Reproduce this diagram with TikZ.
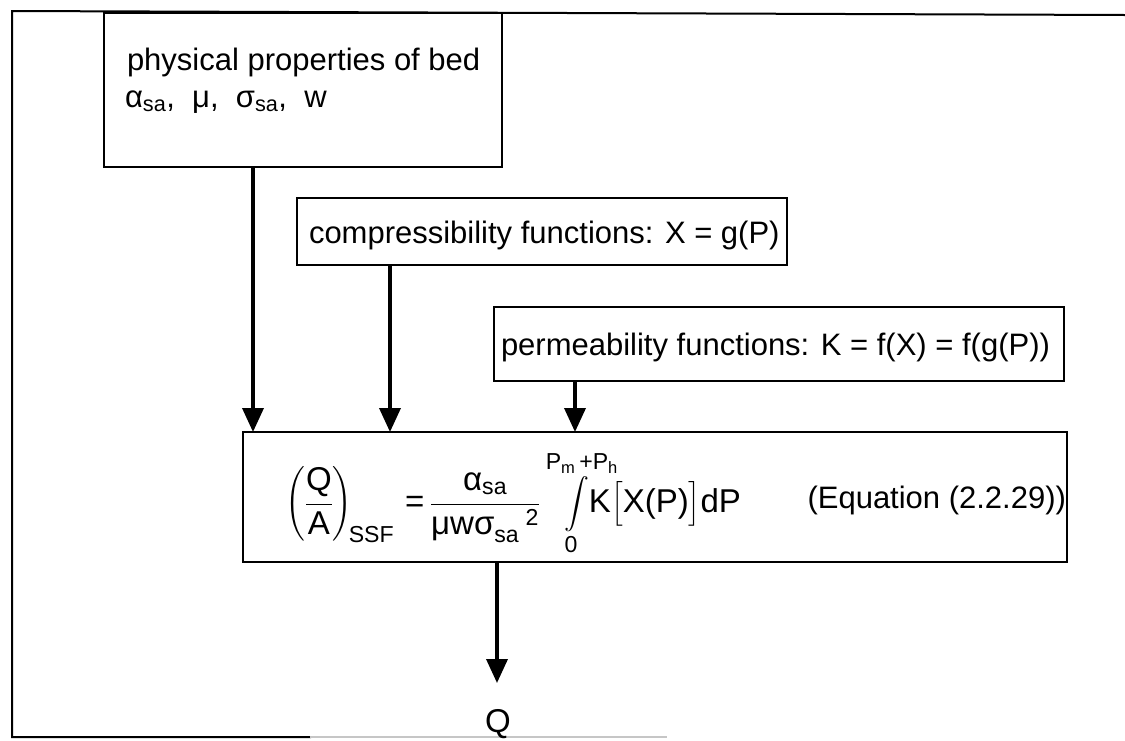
\RequirePackage{fix-cm}
\documentclass[tikz,border=0pt]{standalone}
\usepackage{amsmath}
\usepackage{mathtools}
\usepackage{fontspec}
\setmainfont{Liberation Sans}
\usetikzlibrary{arrows.meta}
\newcommand{\tx}[1]{\text{#1}}
\begin{document}
\begin{tikzpicture}[x=1pt,y=-1pt,
  box/.style={draw, line width=1.3pt, inner sep=0pt, outer sep=0pt, anchor=north west},
  lbl/.style={inner sep=0pt, outer sep=0pt, font=\fontsize{31}{37}\selectfont},
  arr/.style={line width=3.6pt, -{Triangle[width=21pt,length=24pt]}},
  frame/.style={line width=2pt, line cap=rect}]
\useasboundingbox (0,0) rectangle (1125,740);
% outer frame
\draw[frame] (1125,15) -- (12,11) -- (12,737) -- (310,737);
\draw[gray!45, line width=1.5pt] (310,737) -- (667,737);
% boxes
\node[box, minimum width=398pt, minimum height=154pt] (b1) at (104,13) {};
\node[lbl, anchor=base west] (b1a) at (127,70) {physical properties of bed};
\node[lbl, anchor=base west] (b1b) at (125,107) {α\textsubscript{sa}, \ μ, \ σ\textsubscript{sa}, \ w};
\node[box, minimum width=490pt, minimum height=67pt] (b2) at (297,198) {};
\node[lbl, anchor=base west] (b2t) at (309,243) {compressibility functions: X = g(P)};
\node[box, minimum width=570pt, minimum height=74pt] (b3) at (494,307) {};
\node[lbl, anchor=base west] (b3t) at (501,355) {permeability functions: K = f(X) = f(g(P))};
\node[box, minimum width=824pt, minimum height=130pt] (eq) at (243,432) {};
\node[inner sep=0pt, anchor=west, font=\fontsize{33}{40}\selectfont] (eqt) at (285,503)
 {$\displaystyle \left(\frac{\tx{Q}}{\tx{A}}\right)_{\!\tx{SSF}} \tx{\,=\,} \frac{\tx{α}_{\tx{sa}}}{\tx{μwσ}_{\tx{sa}}{}^{\;\tx{2}}}\;\;
 \int\limits_{\tx{0}}^{\mathrlap{\kern-1.1em\tx{P}_{\tx{m}}\,\tx{+}\tx{P}_{\tx{h}}}}\!\tx{K}\bigl[\tx{X(P)}\bigr]\tx{dP}$};
\node[lbl, anchor=base east] (eql) at (1066,508) {(Equation (2.2.29))};
\node[inner sep=0pt, font=\fontsize{33}{40}\selectfont] (q) at (498,724) {Q};
\coordinate (qtip) at (497,683);
% connectors
\draw[arr] ([xshift=149pt]b1.south west) -- ([xshift=10pt]eq.north west);
\draw[arr] ([xshift=93pt]b2.south west) -- ([xshift=147pt]eq.north west);
\draw[arr] ([xshift=81pt]b3.south west) -- ([xshift=332pt]eq.north west);
\draw[arr] ([xshift=254pt]eq.south west) -- (qtip);
\end{tikzpicture}
\end{document}
